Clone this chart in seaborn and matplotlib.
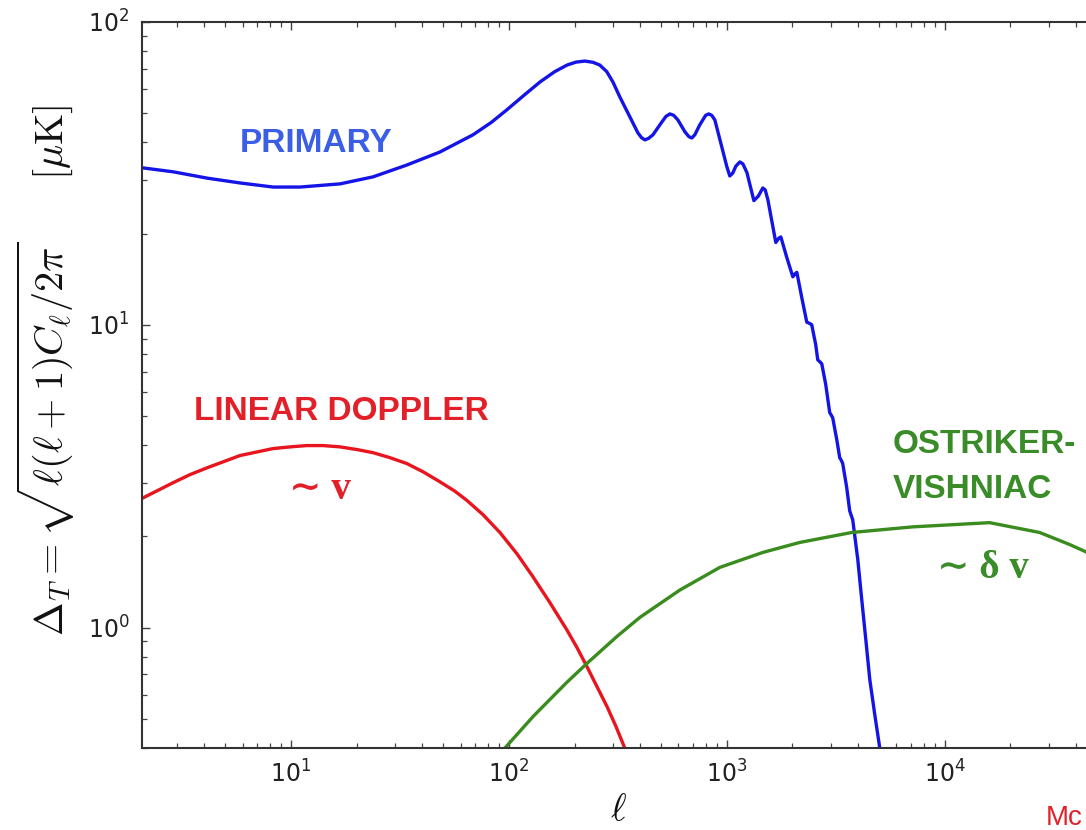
import numpy as np
import pandas as pd
import matplotlib
matplotlib.use("Agg")
import matplotlib.pyplot as plt
import seaborn as sns

# ---------------- data ----------------
primary_ell = [2.07, 2.88, 4.12, 5.84, 8.27, 11.0, 16.8, 23.8, 34.0, 48.2, 68.4, 83.0,
               97.9, 118, 139, 162, 185, 203, 223, 243, 261, 281, 300, 323, 359, 391,
               406, 421, 438, 458, 504, 526, 548, 570, 596, 642, 670, 691, 713, 751,
               800, 826, 852, 881, 948, 1000, 1032, 1065, 1100, 1148, 1185, 1237,
               1331, 1395, 1463, 1500, 1543, 1678, 1730, 1770, 1884, 2009, 2050, 2096,
               2208, 2328, 2400, 2453, 2559, 2614, 2670, 2728, 2845, 2966, 3010, 3062,
               3197, 3297, 3350, 3404, 3550, 3664, 3720, 3783, 3990, 4160, 4344, 4530,
               4775, 5035, 5250]
primary_dt = [33.0, 32.0, 30.5, 29.4, 28.5, 28.5, 29.2, 30.8, 33.7, 37.2, 42.4, 46.6,
              51.3, 57.5, 63.4, 68.5, 72.1, 73.7, 74.3, 73.6, 72.1, 68.6, 63.4, 56.5,
              48.6, 43.0, 41.5, 40.8, 41.3, 42.4, 46.8, 48.8, 49.7, 49.2, 47.5, 43.4,
              41.8, 41.4, 42.4, 45.7, 49.2, 49.7, 49.2, 47.5, 38.7, 33.3, 31.0, 31.7,
              33.4, 34.5, 34.0, 31.8, 25.7, 26.6, 28.3, 27.9, 25.9, 18.7, 19.3, 19.5,
              16.7, 14.4, 14.7, 14.9, 12.3, 10.2, 10.1, 10.0, 8.59, 7.66, 7.55, 7.43,
              6.34, 5.13, 5.04, 4.93, 4.17, 3.64, 3.57, 3.48, 2.90, 2.43, 2.35, 2.27,
              1.68, 1.24, 0.913, 0.674, 0.516, 0.40, 0.315]

doppler_ell = [2.07, 2.43, 2.88, 3.44, 4.12, 5.84, 8.27, 9.9, 11.8, 14.0, 16.8, 20.1,
               23.8, 28.4, 34.0, 40.3, 48.2, 56.5, 64.1, 76.0, 90.9, 109, 129, 154,
               184, 205, 228, 253, 282, 310, 340, 359]
doppler_dt = [2.67, 2.83, 3.01, 3.20, 3.37, 3.70, 3.90, 3.95, 3.99, 3.99, 3.95, 3.87,
              3.78, 3.64, 3.48, 3.27, 3.03, 2.82, 2.63, 2.36, 2.06, 1.75, 1.47, 1.21,
              0.985, 0.86, 0.743, 0.64, 0.548, 0.471, 0.40, 0.361]

ov_ell = [86.3, 95.9, 129, 184, 228, 313, 399, 609, 929, 1462, 2162, 3742, 7126,
          16080, 27270, 37430, 44360, 51400]
ov_dt = [0.37, 0.40, 0.508, 0.658, 0.761, 0.934, 1.08, 1.33, 1.58, 1.77, 1.91, 2.06,
         2.15, 2.22, 2.06, 1.88, 1.78, 1.65]

x_ticks = [1e1, 1e2, 1e3, 1e4]
y_ticks = [1e0, 1e1, 1e2]

# ---------------- style ----------------
sns.set_theme(style="ticks")
plt.rcParams["font.family"] = ["DejaVu Sans"]
plt.rcParams["mathtext.fontset"] = "cm"

W, H = 1086, 830
fig = plt.figure(figsize=(W / 100, H / 100), dpi=100)
fig.patch.set_facecolor("white")
ax = fig.add_axes([142 / W, (H - 748) / H, 955 / W, 726 / H])
ax.set_facecolor("white")

BLUE = "#1414e6"
RED = "#e8141e"
GREEN = "#3a8c1e"

df_p = pd.DataFrame({"ell": primary_ell, "dt": primary_dt})
df_d = pd.DataFrame({"ell": doppler_ell, "dt": doppler_dt})
df_o = pd.DataFrame({"ell": ov_ell, "dt": ov_dt})

for df, c in ((df_p, BLUE), (df_d, RED), (df_o, GREEN)):
    sns.lineplot(data=df, x="ell", y="dt", ax=ax, color=c, lw=2.4, sort=False,
                 estimator=None)
for ln in ax.lines:
    ln.set_solid_joinstyle("round")
    ln.set_solid_capstyle("round")

ax.set_xscale("log")
ax.set_yscale("log")
ax.set_xlim(2.07, 5e4)
ax.set_ylim(0.4, 100)
ax.set_xticks(x_ticks)
ax.set_yticks(y_ticks)
ax.set_xlabel("")
ax.set_ylabel("")

for s in ax.spines.values():
    s.set_color("#333333")
    s.set_linewidth(1.5)
ax.tick_params(which="both", direction="in", top=True, right=True, color="#444444")
ax.tick_params(which="major", length=6, width=1.0, labelsize=17, labelcolor="#222222",
               pad=9)
ax.tick_params(which="minor", length=3.5, width=0.9)

# ---------------- axis labels ----------------
fig.text(46 / W, 1 - 370 / H,
         r"$\Delta_T = \sqrt{\ell(\ell+1)C_\ell/2\pi}$" + "     " + r"$[\mu{\rm K}]$",
         rotation=90, ha="center", va="center", fontsize=29, color="#111111")
fig.text(618 / W, 1 - 810 / H, r"$\ell$", ha="center", va="center", fontsize=27,
         color="#111111")

# ---------------- annotations ----------------
sans_bold = ["Liberation Sans", "DejaVu Sans"]
serif = ["Liberation Serif", "DejaVu Serif"]

def ftxt(x, y, s, **kw):
    fig.text(x / W, 1 - y / H, s, **kw)

ftxt(316, 143, "PRIMARY", color="#3a5fe6", fontsize=24, fontweight="bold",
     family=sans_bold, ha="center", va="center")
ftxt(341, 411, "LINEAR DOPPLER", color="#e3202a", fontsize=24, fontweight="bold",
     family=sans_bold, ha="center", va="center")
ftxt(320, 489, "\u223c v", color="#e3202a", fontsize=28, fontweight="bold",
     family=serif, ha="center", va="center")
ftxt(893, 444, "OSTRIKER-", color="#3a8c28", fontsize=24, fontweight="bold",
     family=sans_bold, ha="left", va="center")
ftxt(893, 489, "VISHNIAC", color="#3a8c28", fontsize=24, fontweight="bold",
     family=sans_bold, ha="left", va="center")
ftxt(983, 569, "\u223c \u03b4 v", color="#3a8c28", fontsize=28, fontweight="bold",
     family=serif, ha="center", va="center")
ftxt(1046, 818, "Mc", color="#e3202a", fontsize=20, family=["Liberation Sans",
     "DejaVu Sans"], ha="left", va="center")

fig.savefig("out.png", dpi=100, facecolor="white")
